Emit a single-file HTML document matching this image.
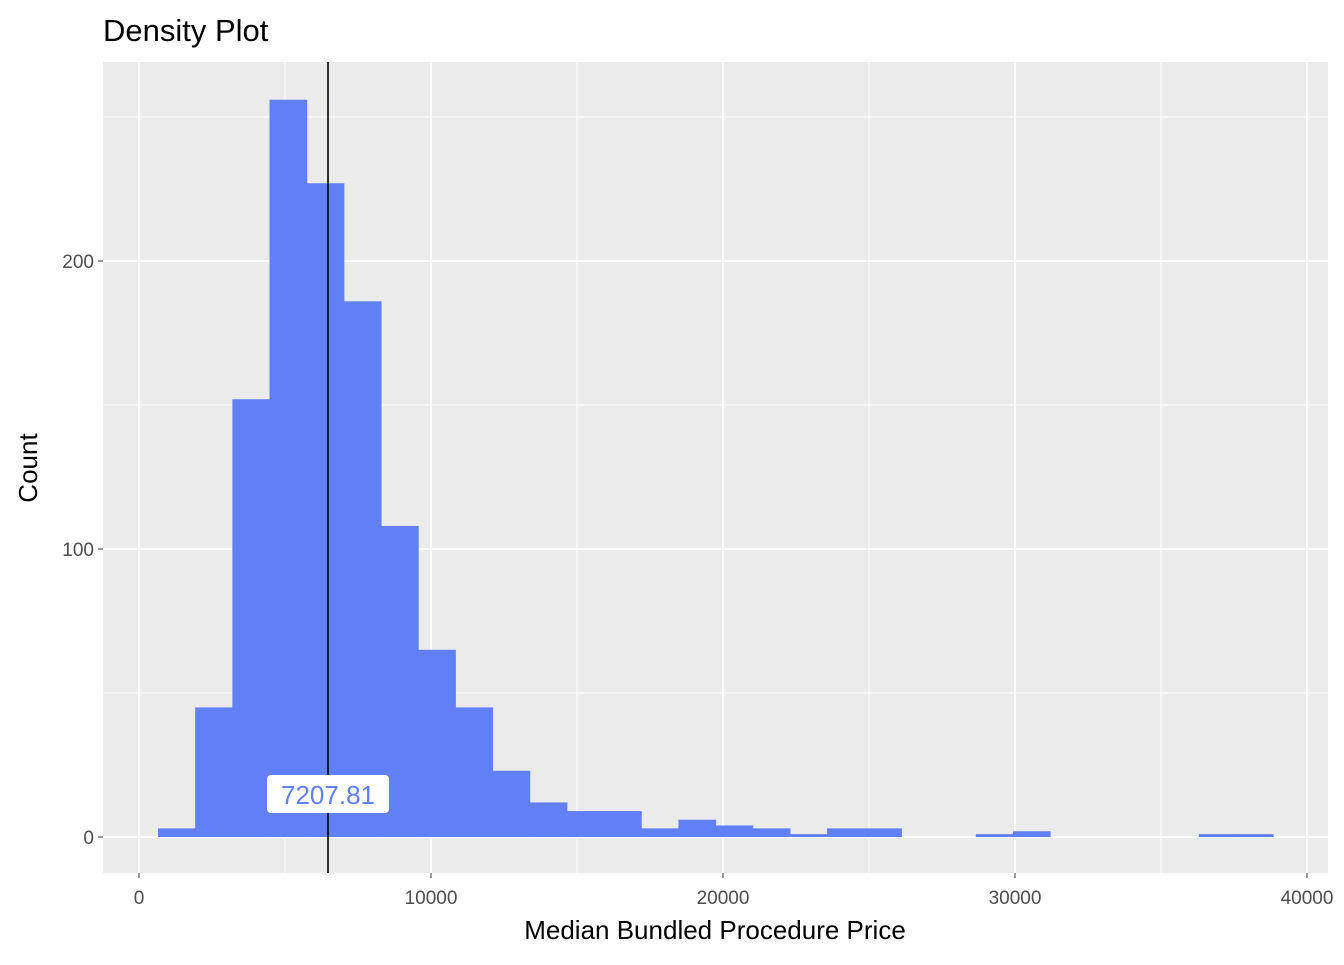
<!DOCTYPE html>
<html><head><meta charset="utf-8"><style>
body{margin:0;background:#fff;font-family:"Liberation Sans",Arial,sans-serif}
</style></head><body>
<svg id="c" width="1344" height="960" xmlns="http://www.w3.org/2000/svg"></svg>
<script>
const counts=[3,45,152,256,227,186,108,65,45,23,12,9,9,3,6,4,3,1,3,3,0,0,1,2,0,0,0,0,1,1];
const binStart=651;
const binWidth=1273;
const xTicks=[0,10000,20000,30000,40000];
const yTicks=[0,100,200];
const meanLineX=6473;
const meanLabel="7207.81";
const svg=document.getElementById('c');
const NS='http://www.w3.org/2000/svg';
const L=103,R=1328,T=62,B=873;
const x=v=>139+v*0.0292;
const y=v=>837-v*2.88;
function el(t,a,txt){const e=document.createElementNS(NS,t);for(const k in a)e.setAttribute(k,a[k]);if(txt!==undefined)e.textContent=txt;svg.appendChild(e);return e;}
let e;
e=el('rect',{x:L,y:T,width:R-L,height:B-T,fill:'#ebebeb'});


for(let i=0;i<xTicks.length-1;i++){const m=(xTicks[i]+xTicks[i+1])/2;e=el('line',{x1:x(m),x2:x(m),y1:T,y2:B,stroke:'#fff','stroke-width':1});}
[50,150,250].forEach(v=>{e=el('line',{x1:L,x2:R,y1:y(v),y2:y(v),stroke:'#fff','stroke-width':1});});
xTicks.forEach(v=>{e=el('line',{x1:x(v),x2:x(v),y1:T,y2:B,stroke:'#fff','stroke-width':2});
e=el('line',{x1:x(v),x2:x(v),y1:B,y2:B+5,stroke:'#333','stroke-width':1});
e=el('text',{x:x(v),y:B+31,'text-anchor':'middle','font-size':19,fill:'#4d4d4d'},v);});
yTicks.forEach(v=>{e=el('line',{x1:L,x2:R,y1:y(v),y2:y(v),stroke:'#fff','stroke-width':2});
e=el('line',{x1:L-5,x2:L,y1:y(v),y2:y(v),stroke:'#333','stroke-width':1});
e=el('text',{x:L-9,y:y(v)+7,'text-anchor':'end','font-size':19,fill:'#4d4d4d'},v);});
counts.forEach((c,i)=>{if(c<=0)return;const x0=x(binStart+i*binWidth),x1=x(binStart+(i+1)*binWidth);
e=el('rect',{x:x0,y:y(c),width:x1-x0+0.5,height:y(0)-y(c),fill:'#6180f6'});});
e=el('line',{x1:x(meanLineX),x2:x(meanLineX),y1:T,y2:B,stroke:'#000','stroke-width':1.6});
e=el('rect',{x:x(meanLineX)-61,y:775,width:122,height:38,rx:4,fill:'#fff'});
e=el('text',{x:x(meanLineX),y:804,'text-anchor':'middle','font-size':26,fill:'#6180f6'},meanLabel);
e=el('text',{x:715,y:939,'text-anchor':'middle','font-size':26,fill:'#000'},'Median Bundled Procedure Price');
e=el('text',{x:37,y:468,'text-anchor':'middle','font-size':26,fill:'#000',transform:'rotate(-90 37 468)'},'Count');
e=el('text',{x:103,y:41,'font-size':31,fill:'#000'},'Density Plot');
</script>
</body></html>
